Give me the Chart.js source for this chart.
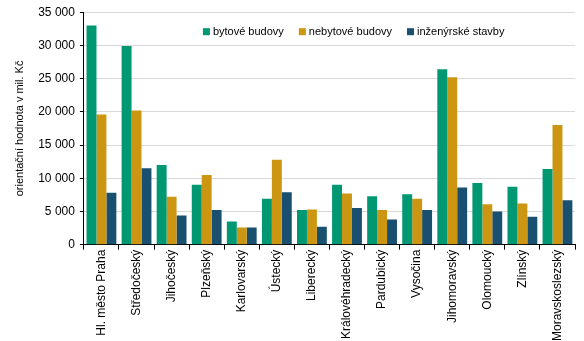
<!DOCTYPE html>
<html>
<head>
<meta charset="utf-8">
<script src="https://cdn.jsdelivr.net/npm/chart.js@4/dist/chart.umd.min.js"></script>
<style>
html,body{margin:0;padding:0;background:#fff;}
#wrap{width:584px;height:341px;position:relative;}
</style>
</head>
<body>
<div id="wrap"><canvas id="c"></canvas></div>
<script>
const categories = ["Hl. město Praha","Středočeský","Jihočeský","Plzeňský","Karlovarský","Ústecký","Liberecký","Královéhradecký","Pardubický","Vysočina","Jihomoravský","Olomoucký","Zlínský","Moravskoslezský"];
const bytove = [33000,29900,12000,9000,3500,6900,5200,9000,7300,7600,26400,9300,8700,11400];
const nebytove = [19600,20200,7200,10500,2600,12800,5300,7700,5200,6900,25200,6100,6200,18000];
const inzenyrske = [7800,11500,4400,5200,2600,7900,2700,5500,3800,5200,8600,5000,4200,6700];
const seriesNames = ["bytové budovy","nebytové budovy","inženýrské stavby"];
const yTitle = "orientační hodnota v mil. Kč";

const FONT = "'Liberation Sans', Arial, sans-serif";
Chart.defaults.font.family = FONT;
Chart.defaults.font.size = 11;
Chart.defaults.color = '#000';

// legend drawn inside the plot area, fed from the chart's datasets
const insideLegend = {
  id: 'insideLegend',
  afterDraw(chart) {
    const ctx = chart.ctx, area = chart.chartArea;
    ctx.save();
    ctx.font = "11px " + FONT;
    ctx.textBaseline = 'middle';
    let x = area.left + 119;
    const y = area.top + 19;
    chart.data.datasets.forEach(ds => {
      ctx.fillStyle = ds.backgroundColor;
      ctx.fillRect(x, y - 3, 7, 7);
      ctx.fillStyle = '#000';
      ctx.fillText(ds.label, x + 10, y + 1);
      x += 10 + ctx.measureText(ds.label).width + 15;
    });
    ctx.restore();
  }
};

new Chart(document.getElementById('c'), {
  type: 'bar',
  data: {
    labels: categories,
    datasets: [
      {label: seriesNames[0], data: bytove, backgroundColor: '#009872'},
      {label: seriesNames[1], data: nebytove, backgroundColor: '#cc9613'},
      {label: seriesNames[2], data: inzenyrske, backgroundColor: '#19506f'}
    ]
  },
  plugins: [insideLegend],
  options: {
    responsive: true,
    maintainAspectRatio: false,
    animation: false,
    datasets: {bar: {categoryPercentage: 0.85, barPercentage: 1.0}},
    layout: {padding: {left: 13, right: 9, top: 6, bottom: 0}},
    plugins: {
      legend: {display: false},
      tooltip: {enabled: false}
    },
    scales: {
      x: {
        grid: {display: true, drawOnChartArea: false, color: '#000', tickLength: 5, offset: true},
        border: {display: true, color: '#000', width: 1},
        ticks: {minRotation: 90, maxRotation: 90, autoSkip: false, padding: 0, font: {size: 12}, color: '#000'}
      },
      y: {
        min: 0, max: 35000,
        ticks: {stepSize: 5000, padding: 5, font: {size: 12}, color: '#000',
          callback: v => String(v).replace(/\B(?=(\d{3})+(?!\d))/g, ' ')},
        grid: {color: '#d9d9d9', tickLength: 4, tickColor: '#000'},
        border: {display: true, color: '#000', width: 1},
        title: {display: true, text: yTitle, font: {size: 11}, color: '#000', padding: {top: 0, bottom: 7}}
      }
    }
  }
});
</script>
</body>
</html>
